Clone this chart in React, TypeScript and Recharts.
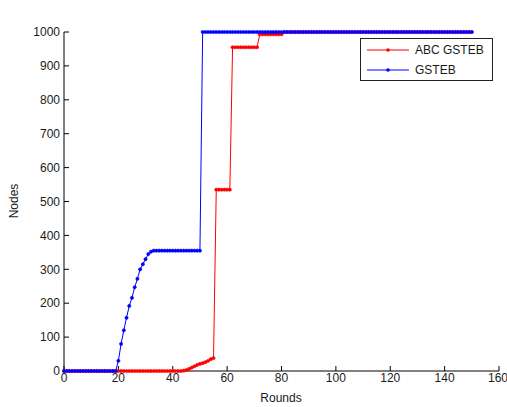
import { LineChart, Line, XAxis, YAxis, Legend } from 'recharts';

// dead nodes per round, rounds 0..150
const abcGsteb = [
  0, 0, 0, 0, 0, 0, 0, 0, 0, 0,
  0, 0, 0, 0, 0, 0, 0, 0, 0, 0,
  0, 0, 0, 0, 0, 0, 0, 0, 0, 0,
  0, 0, 0, 0, 0, 0, 0, 0, 0, 0,
  0, 0, 0, 0, 1, 3, 6, 10, 14, 18,
  21, 23, 26, 30, 35, 38, 535, 535, 535, 535,
  535, 535, 955, 955, 955, 955, 955, 955, 955, 955,
  955, 955, 993, 993, 993, 993, 993, 993, 993, 993,
  993, 1000, 1000, 1000, 1000, 1000, 1000, 1000, 1000, 1000,
  1000, 1000, 1000, 1000, 1000, 1000, 1000, 1000, 1000, 1000,
  1000, 1000, 1000, 1000, 1000, 1000, 1000, 1000, 1000, 1000,
  1000, 1000, 1000, 1000, 1000, 1000, 1000, 1000, 1000, 1000,
  1000, 1000, 1000, 1000, 1000, 1000, 1000, 1000, 1000, 1000,
  1000, 1000, 1000, 1000, 1000, 1000, 1000, 1000, 1000, 1000,
  1000, 1000, 1000, 1000, 1000, 1000, 1000, 1000, 1000, 1000,
  1000,
];

const gsteb = [
  0, 0, 0, 0, 0, 0, 0, 0, 0, 0,
  0, 0, 0, 0, 0, 0, 0, 0, 0, 0,
  30, 80, 120, 157, 192, 216, 247, 272, 300, 315,
  330, 345, 352, 355, 355, 355, 355, 355, 355, 355,
  355, 355, 355, 355, 355, 355, 355, 355, 355, 355,
  355, 1000, 1000, 1000, 1000, 1000, 1000, 1000, 1000, 1000,
  1000, 1000, 1000, 1000, 1000, 1000, 1000, 1000, 1000, 1000,
  1000, 1000, 1000, 1000, 1000, 1000, 1000, 1000, 1000, 1000,
  1000, 1000, 1000, 1000, 1000, 1000, 1000, 1000, 1000, 1000,
  1000, 1000, 1000, 1000, 1000, 1000, 1000, 1000, 1000, 1000,
  1000, 1000, 1000, 1000, 1000, 1000, 1000, 1000, 1000, 1000,
  1000, 1000, 1000, 1000, 1000, 1000, 1000, 1000, 1000, 1000,
  1000, 1000, 1000, 1000, 1000, 1000, 1000, 1000, 1000, 1000,
  1000, 1000, 1000, 1000, 1000, 1000, 1000, 1000, 1000, 1000,
  1000, 1000, 1000, 1000, 1000, 1000, 1000, 1000, 1000, 1000,
  1000,
];

const xTicks = [0, 20, 40, 60, 80, 100, 120, 140, 160];
const yTicks = [0, 100, 200, 300, 400, 500, 600, 700, 800, 900, 1000];

const series = [
  { key: 'abc', name: 'ABC GSTEB', color: '#ff0000' },
  { key: 'gsteb', name: 'GSTEB', color: '#0000ff' },
];

const data = abcGsteb.map((v, i) => ({ round: i, abc: v, gsteb: gsteb[i] }));

const FONT = '"Liberation Sans", Arial, sans-serif';
const INK = '#1a1a1a';
const tickStyle = { fontSize: 12, fill: INK, fontFamily: FONT };

function MatlabLegend() {
  return (
    <div
      style={{
        width: 131,
        height: 40,
        border: '1px solid #222',
        background: '#fff',
        fontFamily: FONT,
        fontSize: 12,
        color: INK,
        paddingTop: 1,
      }}
    >
      {series.map((s) => (
        <div key={s.key} style={{ display: 'flex', alignItems: 'center', height: 20 }}>
          <svg width={50} height={10} style={{ marginLeft: 4 }}>
            <line x1={2} x2={44} y1={5} y2={5} stroke={s.color} strokeWidth={1} />
            <circle cx={23} cy={5} r={1.8} fill={s.color} />
          </svg>
          <span>{s.name}</span>
        </div>
      ))}
    </div>
  );
}

export default function App() {
  return (
    <div style={{ position: 'absolute', left: 0, top: 0, width: 507, height: 407, background: '#fff' }}>
      <LineChart
        width={507}
        height={407}
        data={data}
        margin={{ top: 32, right: 8, bottom: 0, left: 0 }}
      >
        <XAxis
          dataKey="round"
          type="number"
          domain={[0, 160]}
          ticks={xTicks}
          height={36}
          tick={tickStyle}
          tickSize={-5}
          tickMargin={7}
          stroke="#000"
          label={{
            content: () => (
              <text x={281} y={402} textAnchor="middle" fontSize={12} fontFamily={FONT} fill={INK}>
                Rounds
              </text>
            ),
          }}
        />
        <XAxis
          xAxisId="top"
          orientation="top"
          dataKey="round"
          type="number"
          domain={[0, 160]}
          ticks={xTicks}
          height={0}
          tickSize={-5}
          tickFormatter={() => ''}
          stroke="#000"
          label={{
            content: () => (
              <text x={281} y={21} textAnchor="middle" fontSize={12} fontFamily={FONT} fill={INK}>
                Dead nodes
              </text>
            ),
          }}
        />
        <YAxis
          domain={[0, 1000]}
          ticks={yTicks}
          width={64}
          tick={tickStyle}
          tickSize={-5}
          tickMargin={9}
          stroke="#000"
          label={{
            content: () => (
              <text
                x={18}
                y={201}
                transform="rotate(-90 18 201)"
                textAnchor="middle"
                fontSize={12}
                fontFamily={FONT}
                fill={INK}
              >
                Nodes
              </text>
            ),
          }}
        />
        <YAxis
          yAxisId="right"
          orientation="right"
          domain={[0, 1000]}
          ticks={yTicks}
          width={0}
          tickSize={-5}
          tickFormatter={() => ''}
          stroke="#000"
        />
        <Legend
          layout="vertical"
          align="center"
          verticalAlign="middle"
          content={() => <MatlabLegend />}
          wrapperStyle={{ left: 360, top: 38, width: 133, height: 42 }}
        />
        {series.map((s) => (
          <Line
            key={s.key}
            dataKey={s.key}
            name={s.name}
            type="linear"
            stroke={s.color}
            strokeWidth={1}
            dot={{ r: 1.6, fill: s.color, stroke: s.color, strokeWidth: 0.6 }}
            isAnimationActive={false}
          />
        ))}
      </LineChart>
    </div>
  );
}
